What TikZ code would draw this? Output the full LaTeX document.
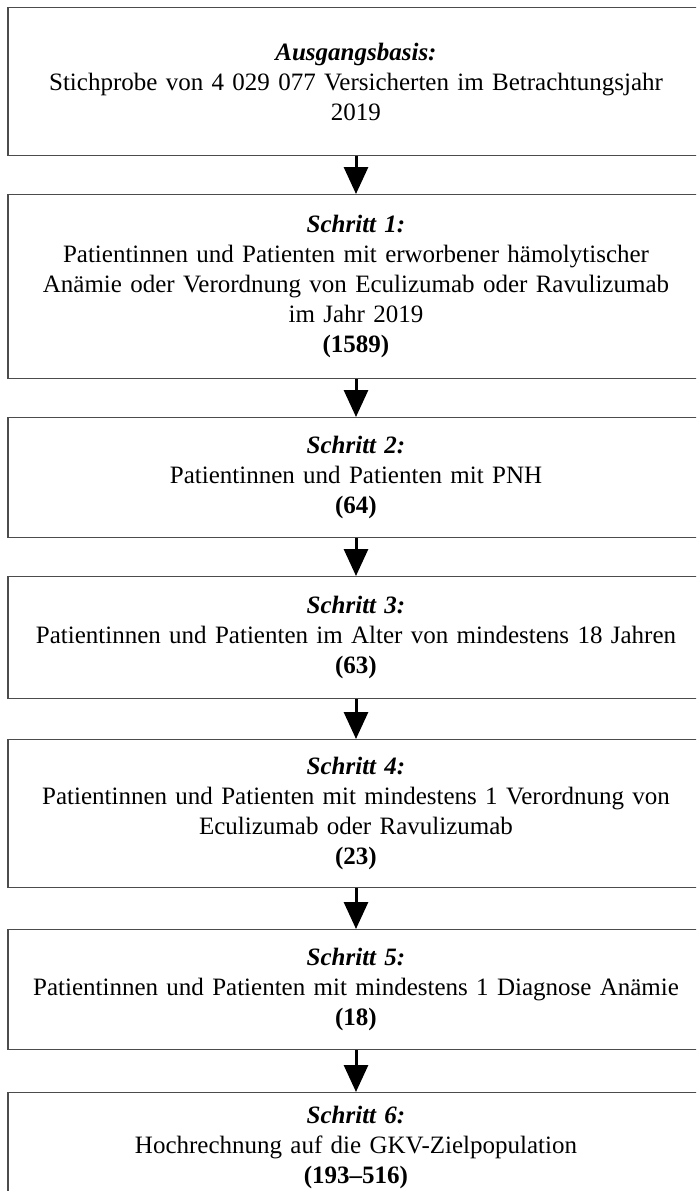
\documentclass[tikz,border=0pt]{standalone}
\usepackage{fontspec}
\setmainfont{Liberation Serif}
\usetikzlibrary{arrows.meta}
\begin{document}
\begin{tikzpicture}[x=1pt,y=-1pt,
  box/.style={draw=black!70, line width=1.1pt, rectangle, minimum width=696pt,
    text width=680pt, align=center, inner sep=0pt, anchor=north,
    font=\fontsize{25}{30}\selectfont},
  flow/.style={line width=3pt, draw=black, -{Triangle[width=24pt,length=27pt]}}]
\useasboundingbox (0,0) rectangle (696,1191);
\clip (0,0) rectangle (696,1191);
\node[box, minimum height=148pt] (b0) at (356,7)
  {\textbf{\textit{Ausgangsbasis:}}\\Stichprobe von 4 029 077 Versicherten im Betrachtungsjahr\\2019};
\node[box, minimum height=184pt] (b1) at (356,194)
  {\textbf{\textit{Schritt 1:}}\\Patientinnen und Patienten mit erworbener hämolytischer\\Anämie oder Verordnung von Eculizumab oder Ravulizumab\\im Jahr 2019\\\textbf{(1589)}};
\node[box, minimum height=120pt] (b2) at (356,417)
  {\textbf{\textit{Schritt 2:}}\\Patientinnen und Patienten mit PNH\\\textbf{(64)}};
\node[box, minimum height=122pt] (b3) at (356,576)
  {\textbf{\textit{Schritt 3:}}\\Patientinnen und Patienten im Alter von mindestens 18 Jahren\\\textbf{(63)}};
\node[box, minimum height=148pt] (b4) at (356,739)
  {\textbf{\textit{Schritt 4:}}\\Patientinnen und Patienten mit mindestens 1 Verordnung von\\Eculizumab oder Ravulizumab\\\textbf{(23)}};
\node[box, minimum height=120pt] (b5) at (356,929)
  {\textbf{\textit{Schritt 5:}}\\Patientinnen und Patienten mit mindestens 1 Diagnose Anämie\\\textbf{(18)}};
\node[box, minimum height=110pt] (b6) at (356,1092)
  {\textbf{\textit{Schritt 6:}}\\Hochrechnung auf die GKV-Zielpopulation\\\textbf{(193–516)}};
\draw[flow] (b0.south) -- (b1.north);
\draw[flow] (b1.south) -- (b2.north);
\draw[flow] (b2.south) -- (b3.north);
\draw[flow] (b3.south) -- (b4.north);
\draw[flow] (b4.south) -- (b5.north);
\draw[flow] (b5.south) -- (b6.north);
\end{tikzpicture}
\end{document}
